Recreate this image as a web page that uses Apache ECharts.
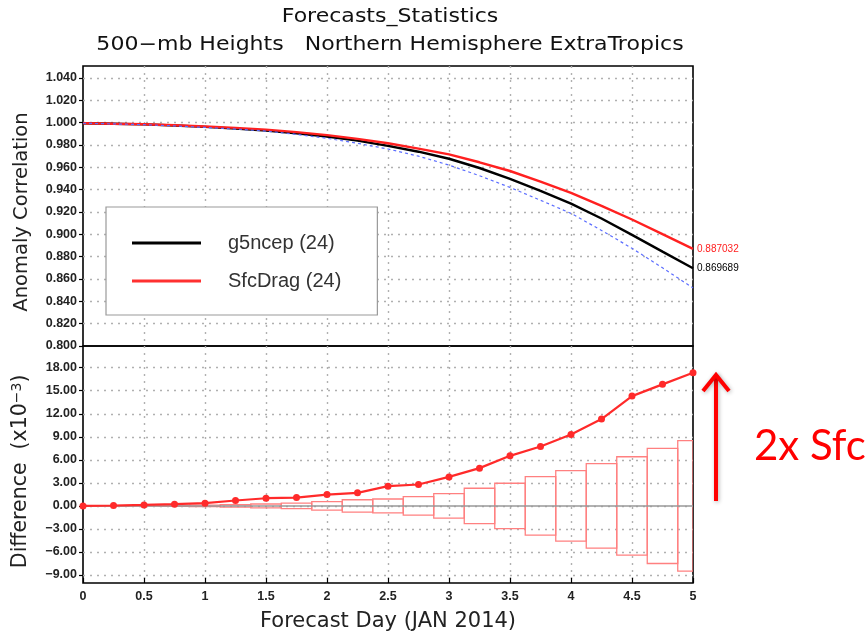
<!DOCTYPE html>
<html>
<head>
<meta charset="utf-8">
<title>Forecasts_Statistics</title>
<script src="https://cdn.jsdelivr.net/npm/echarts@6/dist/echarts.min.js"></script>
<style>
  html, body { margin: 0; padding: 0; background: #fff; }
  #chart { width: 866px; height: 636px; }
</style>
</head>
<body>
<div id="chart"></div>
<script>
// Forecast lead time (days)
const days = [0, 0.25, 0.5, 0.75, 1, 1.25, 1.5, 1.75, 2, 2.25, 2.5,
              2.75, 3, 3.25, 3.5, 3.75, 4, 4.25, 4.5, 4.75, 5];

// 500-mb height anomaly correlation, NH extratropics
const g5ncep = [0.9995, 0.9990, 0.9985, 0.9975, 0.9962, 0.9947, 0.9929, 0.9905,
                0.9875, 0.9839, 0.9792, 0.9740, 0.9677, 0.9594, 0.9497, 0.9390,
                0.9275, 0.9142, 0.8995, 0.8845, 0.869689];
const sfcDrag = [0.9995, 0.99905, 0.99863, 0.99772, 0.99655, 0.9953, 0.9938, 0.99149,
                 0.98888, 0.9855, 0.98157, 0.97679, 0.97158, 0.96452, 0.95672, 0.94724,
                 0.93721, 0.92551, 0.9133, 0.90013, 0.887032];
const reference = [0.9995, 0.9989, 0.9982, 0.9971, 0.9957, 0.9943, 0.9925, 0.9895,
                   0.9860, 0.9815, 0.9764, 0.9700, 0.9620, 0.9525, 0.9420, 0.9305,
                   0.9188, 0.9035, 0.8875, 0.8700, 0.8520];

// SfcDrag minus g5ncep (x10^-3) and the half-width of the significance band
const difference = [0, 0.05, 0.13, 0.22, 0.35, 0.7, 1.0, 1.09, 1.48, 1.7, 2.57,
                    2.79, 3.78, 4.92, 6.52, 7.74, 9.31, 11.31, 14.3, 15.83, 17.35];
const sigBand = [0, 0.01, 0.03, 0.06, 0.1, 0.15, 0.25, 0.35, 0.55, 0.8, 0.9,
                 1.2, 1.6, 2.3, 2.95, 3.8, 4.6, 5.5, 6.4, 7.5, 8.5];

const corrTicks = { min: 0.8, max: 1.04, step: 0.02 };
const diffTicks = { min: -9, max: 18, step: 3 };
const dayTicks = { min: 0, max: 5, step: 0.5 };

const FONT = 'DejaVu Sans, Liberation Sans, sans-serif';
const LABEL_FONT = 'Liberation Sans, Arial, sans-serif';
const dotted = { color: '#b0b0b0', type: [2, 5], width: 1.4 };

const pairs = (ys) => days.map((d, i) => [d, ys[i]]);

const chart = echarts.init(document.getElementById('chart'), null, { renderer: 'canvas' });

const frameGrid = (top, bottom) => ({
  left: 83, right: 173, top: top, bottom: bottom,
  show: true, borderColor: '#000', borderWidth: 1.6,
  backgroundColor: 'transparent', containLabel: false, outerBoundsMode: 'none'
});
const dataGrid = (top, bottom) => ({
  left: 83, right: 173, top: top, bottom: bottom,
  containLabel: false, outerBoundsMode: 'none'
});

const hiddenX = (gridIndex) => ({
  type: 'value', gridIndex, min: dayTicks.min, max: dayTicks.max, interval: dayTicks.step,
  axisLine: { show: false }, axisTick: { show: false }, axisLabel: { show: false },
  splitLine: { show: false }
});

const tickLabel = { color: '#222', fontSize: 12.5, fontWeight: 'bold', fontFamily: LABEL_FONT };

const option = {
  animation: false,
  backgroundColor: '#fff',
  grid: [
    frameGrid(66, 290),      // correlation panel frame
    dataGrid(78, 290),       // correlation values 0.800 .. 1.040
    frameGrid(346, 53),      // difference panel frame
    dataGrid(367.7, 61)      // difference values -9 .. 18
  ],
  xAxis: [
    {
      type: 'value', gridIndex: 0, min: dayTicks.min, max: dayTicks.max, interval: dayTicks.step,
      axisLine: { show: false }, axisTick: { show: false }, axisLabel: { show: false },
      splitLine: { show: true, showMinLine: false, showMaxLine: false, lineStyle: dotted }
    },
    hiddenX(1),
    {
      type: 'value', gridIndex: 2, min: dayTicks.min, max: dayTicks.max, interval: dayTicks.step,
      axisLine: { show: false },
      axisTick: { show: true, inside: true, length: 5, lineStyle: { color: '#000', width: 1.2 } },
      axisLabel: Object.assign({ show: true, margin: 7 }, tickLabel),
      splitLine: { show: true, showMinLine: false, showMaxLine: false, lineStyle: dotted },
      name: 'Forecast Day (JAN 2014)', nameLocation: 'middle', nameGap: 28,
      nameTextStyle: { fontSize: 21, color: '#222', fontFamily: FONT }
    },
    hiddenX(3)
  ],
  yAxis: [
    { type: 'value', gridIndex: 0, min: 0, max: 1, show: false, splitLine: { show: false } },
    {
      type: 'value', gridIndex: 1, min: corrTicks.min, max: corrTicks.max, interval: corrTicks.step,
      axisLine: { show: false },
      axisTick: { show: true, length: 4, lineStyle: { color: '#000', width: 1.2 } },
      axisLabel: Object.assign({ margin: 6, formatter: (v) => v.toFixed(3) }, tickLabel),
      splitLine: { show: true, showMinLine: false, lineStyle: dotted },
      name: 'Anomaly Correlation', nameLocation: 'middle', nameGap: 51,
      nameTextStyle: { fontSize: 19.5, color: '#222', fontFamily: FONT }
    },
    { type: 'value', gridIndex: 2, min: 0, max: 1, show: false, splitLine: { show: false } },
    {
      type: 'value', gridIndex: 3, min: diffTicks.min, max: diffTicks.max, interval: diffTicks.step,
      axisLine: { show: false },
      axisTick: { show: true, length: 4, lineStyle: { color: '#000', width: 1.2 } },
      axisLabel: Object.assign({ margin: 6,
                   formatter: (v) => v.toFixed(2).replace('-', '\u2212') }, tickLabel),
      splitLine: { show: true, lineStyle: dotted },
      name: 'Difference  (x10{sup|\u22123})', nameLocation: 'middle', nameGap: 51,
      nameTextStyle: { fontSize: 20.5, color: '#222', fontFamily: FONT,
        rich: { sup: { fontSize: 14, color: '#222', fontFamily: FONT, verticalAlign: 'top',
                       padding: [0, 0, 8, 0] } } }
    }
  ],
  legend: {
    data: ['g5ncep (24)', 'SfcDrag (24)'],
    orient: 'vertical', left: 106, top: 207,
    icon: 'rect', itemWidth: 69, itemHeight: 3, itemGap: 10,
    padding: [22, 36, 20, 26],
    backgroundColor: '#fff', borderColor: '#9a9a9a', borderWidth: 1.2,
    selectedMode: false,
    textStyle: { fontSize: 20, lineHeight: 28, color: '#333', padding: [0, 0, 0, 22],
                 fontFamily: LABEL_FONT }
  },
  series: [
    {
      name: 'g5ncep (24)', type: 'line', xAxisIndex: 1, yAxisIndex: 1,
      data: pairs(g5ncep), showSymbol: false, z: 3,
      color: '#000', lineStyle: { color: '#000', width: 2.4 },
      endLabel: { show: true, distance: 4, fontSize: 10, color: '#000', fontFamily: LABEL_FONT,
                  formatter: (p) => p.value[1].toFixed(6) }
    },
    {
      name: 'SfcDrag (24)', type: 'line', xAxisIndex: 1, yAxisIndex: 1,
      data: pairs(sfcDrag), showSymbol: false, z: 4,
      color: '#ff3030', lineStyle: { color: '#ff2020', width: 2.4 },
      endLabel: { show: true, distance: 4, fontSize: 10, color: '#ff2020', fontFamily: LABEL_FONT,
                  formatter: (p) => p.value[1].toFixed(6) }
    },
    {
      name: 'reference', type: 'line', xAxisIndex: 1, yAxisIndex: 1,
      data: pairs(reference), showSymbol: false, z: 5,
      lineStyle: { color: '#5b6dff', width: 1.2, type: [3, 3] }
    },
    {
      name: 'band', type: 'custom', xAxisIndex: 3, yAxisIndex: 3, z: 2, clip: true,
      data: pairs(sigBand),
      renderItem: (params, api) => {
        const d = api.value(0), h = api.value(1);
        const a = api.coord([d - 0.125, h]);
        const b = api.coord([d + 0.125, -h]);
        const cs = params.coordSys;
        const rect = echarts.graphic.clipRectByRect(
          { x: a[0], y: a[1], width: b[0] - a[0], height: Math.max(b[1] - a[1], 0.5) },
          { x: cs.x, y: cs.y, width: cs.width, height: cs.height });
        if (!rect) return null;
        return { type: 'rect', shape: rect,
                 style: { fill: 'none', stroke: '#ff8080', lineWidth: 1.3 } };
      },
      markLine: {
        silent: true, symbol: 'none', label: { show: false },
        lineStyle: { color: '#999', type: 'solid', width: 1.6 },
        data: [{ yAxis: 0 }]
      }
    },
    {
      name: 'difference', type: 'line', xAxisIndex: 3, yAxisIndex: 3, z: 6,
      data: pairs(difference),
      symbol: 'circle', symbolSize: 7,
      itemStyle: { color: '#ff2a2a' },
      lineStyle: { color: '#ff2a2a', width: 2.2 }
    }
  ],
  graphic: [
    { type: 'text', x: 390, y: 17, scaleX: 1.16, style: { text: 'Forecasts_Statistics',
      fill: '#111', font: '19px ' + FONT, align: 'center', verticalAlign: 'middle' } },
    { type: 'text', x: 390, y: 45, scaleX: 1.16, style: {
      text: '500\u2212mb Heights   Northern Hemisphere ExtraTropics',
      fill: '#111', font: '19px ' + FONT, align: 'center', verticalAlign: 'middle' } },
    // annotation arrow
    { type: 'polyline', z: 10, shape: { points: [[716, 501], [716, 375]] },
      style: { stroke: '#ff0000', lineWidth: 4, shadowBlur: 4, shadowColor: 'rgba(0,0,0,0.3)',
               shadowOffsetX: 1, shadowOffsetY: 1 } },
    { type: 'polyline', z: 10, shape: { points: [[703, 391], [716, 375], [729, 391]] },
      style: { stroke: '#ff0000', lineWidth: 4, lineJoin: 'miter', shadowBlur: 4,
               shadowColor: 'rgba(0,0,0,0.3)', shadowOffsetX: 1, shadowOffsetY: 1 } },
    { type: 'text', z: 10, x: 754, y: 446, style: { text: '2x Sfc', fill: '#ff0000',
      font: '42px Lato, Open Sans, sans-serif', verticalAlign: 'middle' } }
  ]
};

chart.setOption(option);
</script>
</body>
</html>
